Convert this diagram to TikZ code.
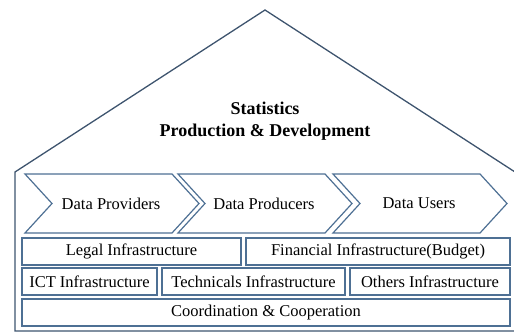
\documentclass[tikz,border=0pt]{standalone}
\usepackage{fontspec}
\setmainfont{Liberation Serif}
\newfontfamily\housefont{Liberation Serif}
\usetikzlibrary{positioning}
\definecolor{roofcol}{RGB}{62,84,110}
\definecolor{framecol}{RGB}{78,112,148}

\begin{document}
\begin{tikzpicture}[
  x=1pt, y=-1pt,
  line width=1.2pt,
  font=\housefont,
  wall/.style={draw=roofcol, line width=1.3pt, line join=miter},
  frame/.style={draw=framecol, fill=white, line width=1.2pt},
  label/.style={font=\housefont\fontsize{16.5}{19}\selectfont},
]
\useasboundingbox (0,0) rectangle (514,334);

% house outline
\draw[wall] (15,331) -- (15,172) -- (265,10) -- (515,172) -- (515,331) -- cycle;
\node[font=\housefont\bfseries\fontsize{18}{22}\selectfont, align=center] (title) at (265,121)
  {Statistics\\Production \& Development};

% chevrons
\foreach \x/\n/\t in {25/prov/Data Providers, 178/prod/Data Producers, 333/user/Data Users} {
  \draw[frame] (\x,174) -- (\x+147,174) -- (\x+174,203.5) -- (\x+147,233) -- (\x,233) -- (\x+27,203.5) -- cycle;
  \node[label] (\n) at (\x+86,203.5) {\t};
}

% infrastructure rows
\foreach \xa/\xb/\ya/\n/\t in {
  22/241/238/legal/Legal Infrastructure,
  246/510/238/fin/Financial Infrastructure(Budget),
  22/157/268/ict/ICT Infrastructure,
  162/345/268/tech/Technicals Infrastructure,
  350/510/268/oth/Others Infrastructure,
  22/510/299/coord/Coordination \& Cooperation} {
  \draw[frame] (\xa,\ya) rectangle (\xb,\ya+27);
  \node[label] (\n) at ({(\xa+\xb)/2},\ya+13.5) {\t};
}

\end{tikzpicture}
\end{document}
